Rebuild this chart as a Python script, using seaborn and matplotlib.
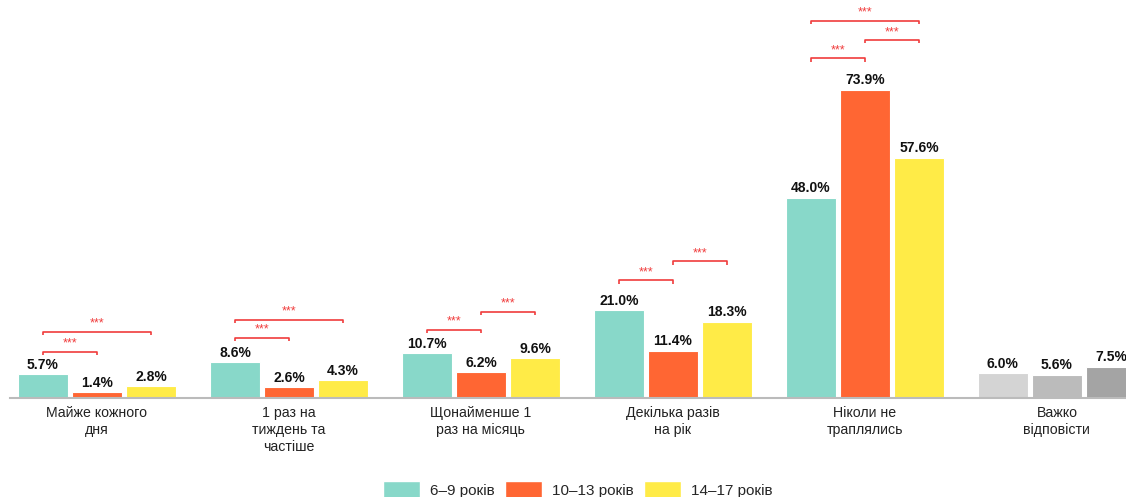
import numpy as np
import pandas as pd
import matplotlib.pyplot as plt
import seaborn as sns
from matplotlib.patches import Patch

categories = ["Майже кожного\nдня", "1 раз на\nтиждень та\nчастіше", "Щонайменше 1\nраз на місяць",
              "Декілька разів\nна рік", "Ніколи не\nтраплялись", "Важко\nвідповісти"]
groups = ["6–9 років", "10–13 років", "14–17 років"]
age_6_9 = [5.7, 8.6, 10.7, 21.0, 48.0, 6.0]
age_10_13 = [1.4, 2.6, 6.2, 11.4, 73.9, 5.6]
age_14_17 = [2.8, 4.3, 9.6, 18.3, 57.6, 7.5]

# significance brackets: (category index, bar a, bar b, level in %)
brackets = [(0, 0, 1, 11.1), (0, 0, 2, 15.9),
            (1, 0, 1, 14.5), (1, 0, 2, 18.8),
            (2, 0, 1, 16.4), (2, 1, 2, 20.7),
            (3, 0, 1, 28.2), (3, 1, 2, 32.8),
            (4, 0, 1, 81.4), (4, 1, 2, 85.8), (4, 0, 2, 90.4)]

colors = ["#88D8C9", "#FF6633", "#FFEB47"]
grays = ["#D4D4D4", "#BBBBBB", "#A4A4A4"]

df = pd.DataFrame({
    "cat": categories * 3,
    "group": [g for g in groups for _ in categories],
    "value": age_6_9 + age_10_13 + age_14_17,
})

sns.set_style("white")
plt.rcParams["font.family"] = ["Liberation Sans", "DejaVu Sans"]

fig = plt.figure(figsize=(11.26, 4.97), dpi=100)
ax = fig.add_axes([10 / 1126, 0.199, 1 - 10 / 1126, 0.801])

sns.barplot(data=df, x="cat", y="value", hue="group", palette=colors, saturation=1,
            width=0.844, gap=0.075, edgecolor="white", linewidth=0.8,
            legend=False, ax=ax)

for h, cont in enumerate(ax.containers):
    cont[5].set_facecolor(grays[h])
    for bar in cont:
        v = bar.get_height()
        ax.text(bar.get_x() + bar.get_width() / 2, v + 0.6, f"{v:.1f}%",
                ha="center", va="bottom", fontsize=10, fontweight="bold", color="#111111")

# bar centers for the brackets
pitch = 0.844 / 3
for ci, a, b, lvl in brackets:
    xa = ci + (a - 1) * pitch
    xb = ci + (b - 1) * pitch
    ax.plot([xa, xa, xb, xb], [lvl - 0.8, lvl, lvl, lvl - 0.8], color="#F03C3C", lw=1.2,
            solid_capstyle="butt")
    ax.text((xa + xb) / 2, lvl + 0.5, "***", ha="center", va="bottom", fontsize=9, color="#F03C3C")

ax.set_xlim(-0.453, 5.36)
ax.set_ylim(0, 95.4)
ax.set_xlabel("")
ax.set_ylabel("")
ax.set_yticks([])
ax.tick_params(axis="x", length=0, pad=6, labelsize=10.2, labelcolor="#222222")
for lbl in ax.get_xticklabels():
    lbl.set_linespacing(1.25)
for s in ["top", "left", "right"]:
    ax.spines[s].set_visible(False)
ax.spines["bottom"].set_color("#BBBBBB")
ax.spines["bottom"].set_linewidth(1.5)

handles = [Patch(facecolor=c, edgecolor="white") for c in colors]
fig.legend(handles, groups, loc="lower center", bbox_to_anchor=(0.513, -0.034), ncol=3,
           frameon=False, fontsize=11, handlelength=2.4, handleheight=1.6,
           columnspacing=0.7, handletextpad=0.65)

fig.savefig("out.png", dpi=100)
